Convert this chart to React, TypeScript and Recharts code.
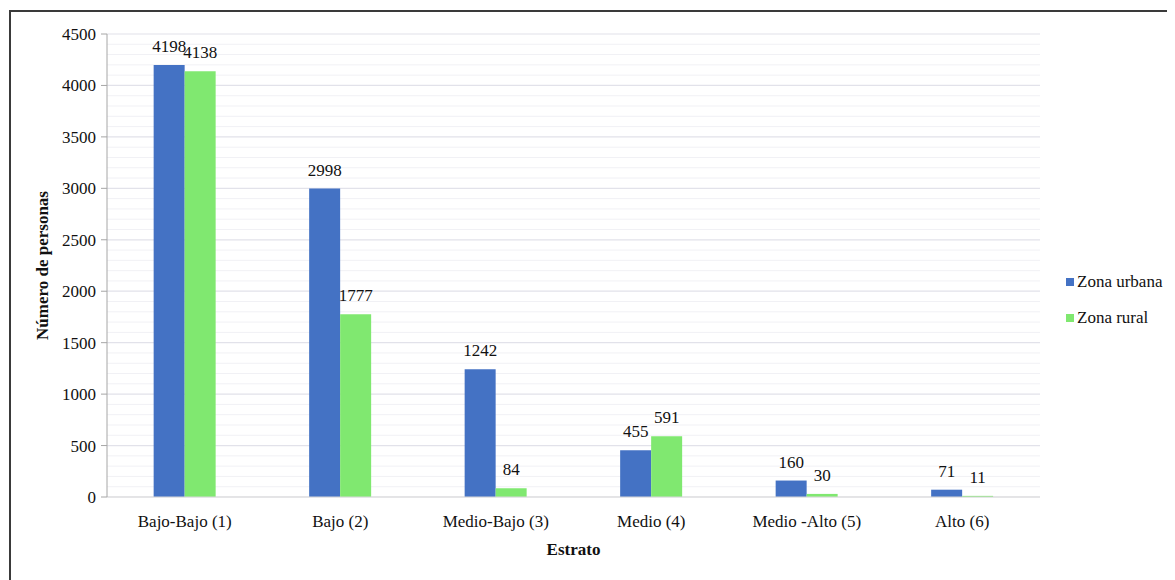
import React from 'react';
import { BarChart, Bar, XAxis, YAxis, CartesianGrid, LabelList } from 'recharts';

const categories = ['Bajo-Bajo (1)', 'Bajo (2)', 'Medio-Bajo (3)', 'Medio (4)', 'Medio -Alto (5)', 'Alto (6)'];
const urbana = [4198, 2998, 1242, 455, 160, 71];
const rural = [4138, 1777, 84, 591, 30, 11];
const yTicks = [0, 500, 1000, 1500, 2000, 2500, 3000, 3500, 4000, 4500];
const minorTicks = [100, 200, 300, 400, 600, 700, 800, 900, 1100, 1200, 1300, 1400, 1600, 1700, 1800, 1900, 2100, 2200, 2300, 2400, 2600, 2700, 2800, 2900, 3100, 3200, 3300, 3400, 3600, 3700, 3800, 3900, 4100, 4200, 4300, 4400];
const seriesNames = ['Zona urbana', 'Zona rural'];

const data = categories.map((c, i) => ({ name: c, urbana: urbana[i], rural: rural[i] }));

const FONT = "'Liberation Serif', 'Times New Roman', Times, 'DejaVu Serif', serif";
const BLUE = '#4472C4';
const GREEN = '#80E870';

const YTitle = (props: any) => {
  const vb = props.viewBox || {};
  const cx = 34;
  const cy = vb.y + vb.height / 2;
  return (
    <text x={cx} y={cy} transform={`rotate(-90 ${cx} ${cy})`} textAnchor="middle" dominantBaseline="central"
      style={{ fontFamily: FONT, fontSize: 17, fontWeight: 'bold', fill: '#111' }}>
      Número de personas
    </text>
  );
};

export default function App() {
  return (
    <div style={{ position: 'relative', width: 1167, height: 572 }}>
      <div style={{ position: 'absolute', left: 1, top: 2, width: 1220, height: 620, border: '2px solid #3a3a3a', boxSizing: 'border-box' }} />
      <div style={{ position: 'absolute', left: 0, top: 0 }}>
        <BarChart width={1167} height={572} data={data} margin={{ top: 26, right: 135, bottom: 53, left: 0 }} barGap={0} barCategoryGap="30%">
          <CartesianGrid horizontalValues={minorTicks} vertical={false} stroke="#f1f1f5" strokeWidth={1} />
          <CartesianGrid horizontalValues={yTicks} vertical={false} stroke="#e2e2ea" strokeWidth={1.2} />
          <XAxis
            dataKey="name"
            tickLine={false}
            axisLine={{ stroke: '#d9d9d9' }}
            height={30}
            tickMargin={12}
            tick={{ fontFamily: FONT, fontSize: 17, fill: '#111' }}
            label={{ value: 'Estrato', position: 'bottom', offset: 16, style: { fontFamily: FONT, fontSize: 17, fontWeight: 'bold', fill: '#111' } }}
          />
          <YAxis
            domain={[0, 4500]}
            ticks={yTicks}
            interval={0}
            width={99}
            tickSize={6}
            tickMargin={5}
            axisLine={{ stroke: '#a6a6a6' }}
            tickLine={{ stroke: '#a6a6a6' }}
            tick={{ fontFamily: FONT, fontSize: 17, fill: '#111' }}
            label={<YTitle />}
          />
          <Bar dataKey="urbana" name={seriesNames[0]} fill={BLUE} isAnimationActive={false}>
            <LabelList dataKey="urbana" position="top" offset={13} style={{ fontFamily: FONT, fontSize: 17, fill: '#111' }} />
          </Bar>
          <Bar dataKey="rural" name={seriesNames[1]} fill={GREEN} isAnimationActive={false}>
            <LabelList dataKey="rural" position="top" offset={13} style={{ fontFamily: FONT, fontSize: 17, fill: '#111' }} />
          </Bar>
        </BarChart>
      </div>
      <div style={{ position: 'absolute', left: 1058, top: 264, fontFamily: FONT, fontSize: 17, color: '#111' }}>
        {[BLUE, GREEN].map((c, i) => (
          <div key={i} style={{ display: 'flex', alignItems: 'center', height: 19, marginBottom: i === 0 ? 17 : 0 }}>
            <span style={{ display: 'inline-block', width: 8, height: 8, background: c, marginRight: 3 }} />
            <span>{seriesNames[i]}</span>
          </div>
        ))}
      </div>
    </div>
  );
}
